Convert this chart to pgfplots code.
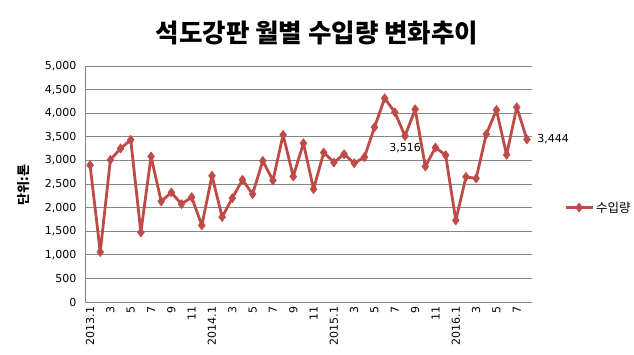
\documentclass[border=0pt]{standalone}
\usepackage{pgfplots}
\pgfplotsset{compat=1.18}
\usepackage{fontspec}
\setmainfont{DejaVu Sans}
\newfontfamily\cjk{Noto Sans CJK KR}
\definecolor{ser}{RGB}{190,75,72}
\definecolor{grd}{RGB}{134,134,134}
\begin{document}
\begin{tikzpicture}
\path[use as bounding box] (0,0) rectangle (634bp,355bp);
\node[font=\cjk\bfseries\fontsize{25.5bp}{28bp}\selectfont] at (317bp,322bp) {석도강판 월별 수입량 변화추이};
\node[font=\cjk\bfseries\fontsize{13bp}{15bp}\selectfont, rotate=90] at (24bp,170bp) {단위:톤};
\begin{axis}[
  at={(85bp,53bp)}, anchor=south west,
  scale only axis, width=447bp, height=236bp,
  xmin=0.5, xmax=44.5, ymin=0, ymax=5000,
  ytick distance=500,
  xtick={1,3,...,43},
  xticklabels={2013.1,3,5,7,9,11,2014.1,3,5,7,9,11,2015.1,3,5,7,9,11,2016.1,3,5,7},
  xticklabel style={rotate=90, anchor=east, font=\fontsize{11bp}{12bp}\selectfont, xshift=-1bp},
  yticklabel style={font=\fontsize{11bp}{12bp}\selectfont, xshift=-5bp},
  /pgf/number format/assume math mode=true,
  /pgf/number format/1000 sep={,},
  scaled y ticks=false,
  major tick length=0pt,
  axis x line=bottom, axis y line=left,
  axis line style={grd, -, line width=0.8bp},
  ymajorgrids, grid style={grd, line width=0.8bp},
  legend style={at={(1.065,0.4)}, anchor=west, draw=none, fill=none, font=\cjk\fontsize{12.5bp}{14bp}\selectfont},
  legend cell align=left,
  legend image code/.code={\draw[#1, mark repeat=2, mark phase=2] plot coordinates {(0bp,0bp) (13.5bp,0bp) (27bp,0bp)};},
  clip=false,
]
\addplot[ser, line width=2.8bp, line join=round, mark=diamond*, mark size=4.6bp, mark options={fill=ser, draw=ser, line width=0.5bp}] coordinates {
(1,2899) (2,1059) (3,3012) (4,3252) (5,3435) (6,1475) (7,3082) (8,2131) (9,2321) (10,2074)
(11,2222) (12,1623) (13,2674) (14,1799) (15,2201) (16,2589) (17,2286) (18,2991) (19,2575) (20,3541)
(21,2659) (22,3364) (23,2392) (24,3167) (25,2955) (26,3132) (27,2941) (28,3068) (29,3703) (30,4316)
(31,4020) (32,3516) (33,4083) (34,2871) (35,3273) (36,3110) (37,1729) (38,2652) (39,2617) (40,3555)
(41,4069) (42,3118) (43,4126) (44,3444)
};
\addlegendentry{수입량}
\node[font=\fontsize{11bp}{12bp}\selectfont, anchor=north] at (axis cs:32,3516) [yshift=-4bp] {3,516};
\node[font=\fontsize{11bp}{12bp}\selectfont, anchor=west] at (axis cs:44,3444) [xshift=7bp] {3,444};
\end{axis}
\end{tikzpicture}
\end{document}
